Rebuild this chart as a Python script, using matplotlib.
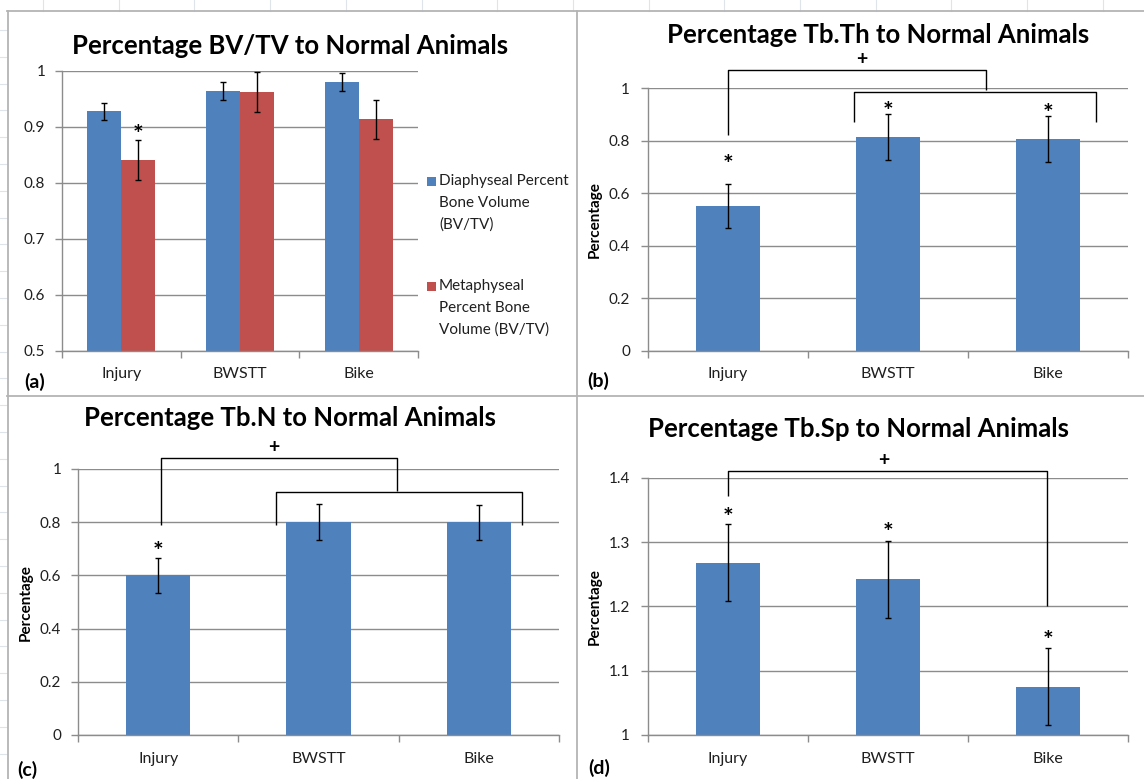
import matplotlib
matplotlib.use("Agg")
import matplotlib.pyplot as plt
from matplotlib.lines import Line2D
from matplotlib.patches import Rectangle
import numpy as np

plt.rcParams['font.family'] = ['Lato', 'DejaVu Sans']

# ---------------- data ----------------
categories = ["Injury", "BWSTT", "Bike"]

bvtv_diaphyseal = [0.928, 0.964, 0.980]
bvtv_diaphyseal_err = [0.015, 0.016, 0.016]
bvtv_metaphyseal = [0.841, 0.962, 0.914]
bvtv_metaphyseal_err = [0.036, 0.036, 0.035]

tbth = [0.552, 0.815, 0.808]
tbth_err = [0.085, 0.088, 0.088]

tbn = [0.600, 0.800, 0.800]
tbn_err = [0.066, 0.067, 0.066]

tbsp = [1.268, 1.242, 1.075]
tbsp_err = [0.060, 0.060, 0.060]

titles = ["Percentage BV/TV to Normal Animals",
          "Percentage Tb.Th to Normal Animals",
          "Percentage Tb.N to Normal Animals",
          "Percentage Tb.Sp to Normal Animals"]
panel_labels = ["(a)", "(b)", "(c)", "(d)"]
legend_labels = ["Diaphyseal Percent\nBone Volume\n(BV/TV)",
                 "Metaphyseal\nPercent Bone\nVolume (BV/TV)"]
ylabel_text = "Percentage"

yticks_a = [0.5, 0.6, 0.7, 0.8, 0.9, 1.0]
yticklabels_a = ["0.5", "0.6", "0.7", "0.8", "0.9", "1"]
yticks_bc = [0, 0.2, 0.4, 0.6, 0.8, 1.0]
yticklabels_bc = ["0", "0.2", "0.4", "0.6", "0.8", "1"]
yticks_d = [1.0, 1.1, 1.2, 1.3, 1.4]
yticklabels_d = ["1", "1.1", "1.2", "1.3", "1.4"]

# significance markers: (category position, y value)
stars_a = [(0.143, 0.897)]
stars_b = [(0, 0.732), (1, 0.936), (2, 0.926)]
stars_c = [(0, 0.714)]
stars_d = [(0, 1.347), (1, 1.324), (2, 1.156)]

# brackets: list of (x list, y list) in data coordinates
brackets_b = [([0.0, 0.0, 1.614, 1.614], [0.822, 1.070, 1.070, 0.994]),
              ([0.785, 0.785, 2.298, 2.298], [0.873, 0.987, 0.987, 0.873])]
plus_b = (0.838, 1.108)
brackets_c = [([0.015, 0.015, 1.49, 1.49], [0.789, 1.043, 1.043, 0.917]),
              ([0.737, 0.737, 2.27, 2.27], [0.789, 0.915, 0.915, 0.789])]
plus_c = (0.718, 1.081)
brackets_d = [([0.0, 0.0, 1.996, 1.996], [1.372, 1.411, 1.411, 1.201])]
plus_d = (0.972, 1.426)

# ---------------- style ----------------
BLUE = "#4F81BD"
RED = "#C0504D"
GRAY = "#8C8C8C"
TXT = "#1f1f1f"

W, H = 1144, 779
fig = plt.figure(figsize=(W / 100, H / 100), dpi=100)
fig.patch.set_facecolor("white")


def fx(x):
    return x / W


def fy(y):
    return 1 - y / H


def fline(x0, y0, x1, y1, color, lw):
    fig.add_artist(Line2D([fx(x0), fx(x1)], [fy(y0), fy(y1)],
                          transform=fig.transFigure, color=color, lw=lw))


# spreadsheet background
for k in range(16):
    x = 43 + 75.7 * k
    fline(x, 0, x, 11, "#dfe4ea", 0.8)
for k in range(29):
    y = 30 + 26.8 * k
    fline(0, y, 7, y, "#dfe4ea", 0.8)
# panel borders
fline(7.5, 11, 7.5, 779, "#b4b4b4", 1.3)
fline(7, 11, 1144, 11, "#b4b4b4", 1.3)
fline(577, 11, 577, 779, "#b4b4b4", 1.3)
fline(7, 396, 1144, 396, "#b4b4b4", 1.3)


def axes_px(left, right, top, bottom):
    return fig.add_axes([fx(left), fy(bottom), (right - left) / W, (bottom - top) / H])


def style(ax, ylim, yticks, ylabels, ypad):
    ax.set_xlim(-0.5, 2.5)
    ax.set_ylim(*ylim)
    ax.set_yticks(yticks)
    ax.set_yticklabels(ylabels)
    ax.set_xticks([-0.5, 0.5, 1.5, 2.5])
    ax.set_xticklabels([])
    ax.set_xticks([0, 1, 2], minor=True)
    ax.set_xticklabels(categories, minor=True)
    ax.tick_params(axis='x', which='major', length=5, width=1, direction='out', color=GRAY)
    ax.tick_params(axis='x', which='minor', length=0, pad=12, labelsize=11.5, labelcolor=TXT)
    ax.tick_params(axis='y', length=5, width=1, direction='out', color=GRAY, pad=ypad,
                   labelsize=11, labelcolor=TXT)
    for s in ['top', 'right']:
        ax.spines[s].set_visible(False)
    for s in ['left', 'bottom']:
        ax.spines[s].set_color(GRAY)
        ax.spines[s].set_linewidth(1)
    ax.yaxis.grid(True, color=GRAY, lw=1)
    ax.set_axisbelow(True)
    ax.patch.set_alpha(0)


def add_stars(ax, stars):
    for x, y in stars:
        ax.annotate("*", xy=(x, y), xytext=(0, -5), textcoords='offset points',
                    ha='center', va='center', fontsize=18, fontweight='bold',
                    color='black', annotation_clip=False)


def add_brackets(ax, brackets, plus):
    for xs, ys in brackets:
        ax.plot(xs, ys, color='black', lw=1, clip_on=False, solid_capstyle='butt')
    ax.annotate("+", xy=plus, xytext=(0, 0), textcoords='offset points',
                ha='center', va='center', fontsize=14, fontweight='bold',
                color='black', annotation_clip=False)


x = np.arange(len(categories))
ekw = dict(fmt='none', ecolor='black', elinewidth=1, capsize=2.5, capthick=1)

# ---- (a) ----
ax_a = axes_px(62, 418, 71, 350.7)
style(ax_a, (0.5, 1.0), yticks_a, yticklabels_a, 7)
bw = 0.286
ax_a.bar(x - bw / 2, bvtv_diaphyseal, bw, color=BLUE, zorder=2)
ax_a.bar(x + bw / 2, bvtv_metaphyseal, bw, color=RED, zorder=2)
ax_a.errorbar(x - bw / 2, bvtv_diaphyseal, yerr=bvtv_diaphyseal_err, zorder=3, **ekw)
ax_a.errorbar(x + bw / 2, bvtv_metaphyseal, yerr=bvtv_metaphyseal_err, zorder=3, **ekw)
add_stars(ax_a, stars_a)

# legend (a)
for (ytop, color, label) in [(177, BLUE, legend_labels[0]), (282, RED, legend_labels[1])]:
    fig.add_artist(Rectangle((fx(427), fy(ytop + 9)), 9 / W, 9 / H,
                             transform=fig.transFigure, facecolor=color, edgecolor='none'))
    for i, line in enumerate(label.split("\n")):
        fig.text(fx(439), fy(ytop + 4.5 + 21.5 * i), line, ha='left', va='center',
                 fontsize=11, color=TXT)

# ---- (b) ----
ax_b = axes_px(648, 1128, 88.3, 350.7)
style(ax_b, (0, 1.0), yticks_bc, yticklabels_bc, 8)
ax_b.bar(x, tbth, 0.4, color=BLUE, zorder=2)
ax_b.errorbar(x, tbth, yerr=tbth_err, zorder=3, **ekw)
add_stars(ax_b, stars_b)
add_brackets(ax_b, brackets_b, plus_b)

# ---- (c) ----
ax_c = axes_px(78, 559, 469, 735)
style(ax_c, (0, 1.0), yticks_bc, yticklabels_bc, 7)
ax_c.bar(x, tbn, 0.4, color=BLUE, zorder=2)
ax_c.errorbar(x, tbn, yerr=tbn_err, zorder=3, **ekw)
add_stars(ax_c, stars_c)
add_brackets(ax_c, brackets_c, plus_c)

# ---- (d) ----
ax_d = axes_px(648, 1128, 477.7, 735)
style(ax_d, (1.0, 1.4), yticks_d, yticklabels_d, 8)
ax_d.bar(x, tbsp, 0.4, color=BLUE, zorder=2)
ax_d.errorbar(x, tbsp, yerr=tbsp_err, zorder=3, **ekw)
add_stars(ax_d, stars_d)
add_brackets(ax_d, brackets_d, plus_d)

# titles
for (cx, cy), t in zip([(290, 46), (878, 35), (290, 418), (859, 429)], titles):
    fig.text(fx(cx), fy(cy), t, ha='center', va='center', fontsize=18.5,
             fontweight='bold', color='black')

# y labels
for (cx, cy) in [(595, 220), (26, 603), (595, 607)]:
    fig.text(fx(cx), fy(cy), ylabel_text, ha='center', va='center', rotation=90,
             fontsize=11, fontweight='bold', color='black')

# panel labels
for (cx, cy), t in zip([(35, 382), (598, 381), (27, 770), (599, 768)], panel_labels):
    fig.text(fx(cx), fy(cy), t, ha='center', va='center', fontsize=14,
             fontweight='bold', color='black')

fig.savefig("out.png", dpi=100)
